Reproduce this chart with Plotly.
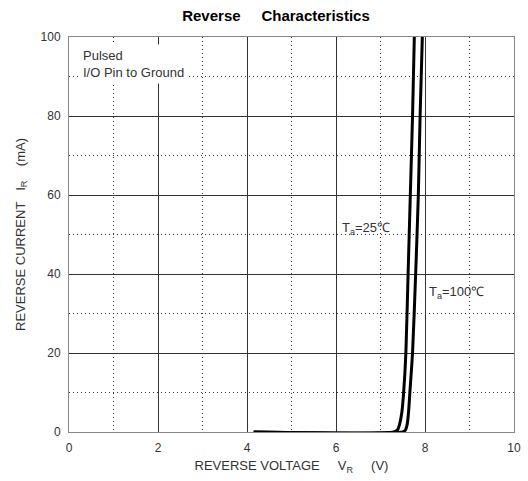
import plotly.graph_objects as go

# Data
vr_25 = [4.15, 7.30, 7.38, 7.43, 7.48, 7.52, 7.57, 7.62, 7.67, 7.72, 7.76]
ir_25 = [0, 0, 0.5, 2, 5, 10, 20, 40, 60, 80, 100]
vr_100 = [4.15, 7.50, 7.56, 7.60, 7.63, 7.66, 7.72, 7.79, 7.85, 7.89, 7.94]
ir_100 = [0, 0, 0.5, 2, 5, 10, 20, 40, 60, 80, 100]

x_ticks = [0, 2, 4, 6, 8, 10]
y_ticks = [0, 20, 40, 60, 80, 100]

FONT = "Arial, Liberation Sans, sans-serif"
NB = "\u00a0"

fig = go.Figure()
fig.add_trace(go.Scatter(x=vr_25, y=ir_25, mode="lines",
                         line=dict(color="black", width=3, shape="spline", smoothing=0.6),
                         name="Ta=25°C", showlegend=False))
fig.add_trace(go.Scatter(x=vr_100, y=ir_100, mode="lines",
                         line=dict(color="black", width=3, shape="spline", smoothing=0.6),
                         name="Ta=100°C", showlegend=False))

axis_common = dict(
    showline=True, linecolor="#888888", linewidth=1, mirror=True,
    showgrid=True, gridcolor="#333333", gridwidth=1,
    zeroline=False, ticks="",
    tickfont=dict(family=FONT, size=12, color="#333333"),
)

fig.update_xaxes(
    range=[0, 10], tickvals=x_ticks, ticktext=[str(v) for v in x_ticks],
    ticklabelstandoff=5,
    minor=dict(dtick=1, tick0=0, showgrid=True, gridcolor="#333333", griddash="1px,3px", gridwidth=1),
    title=dict(text=f"REVERSE VOLTAGE{NB*5}V<sub>R</sub>{NB*5}(V)",
               font=dict(family=FONT, size=13, color="#333333"), standoff=6),
    **axis_common,
)
fig.update_yaxes(
    range=[0, 100], tickvals=y_ticks, ticktext=[str(v) for v in y_ticks],
    ticklabelstandoff=5,
    minor=dict(dtick=10, tick0=0, showgrid=True, gridcolor="#333333", griddash="1px,3px", gridwidth=1),
    title=dict(text=f"REVERSE CURRENT{NB*3}I<sub>R</sub>{NB*4}(mA)",
               font=dict(family=FONT, size=13, color="#333333"), standoff=12),
    **axis_common,
)

fig.add_annotation(x=0.22, y=98.2, xref="x", yref="y", xanchor="left", yanchor="top",
                   text="Pulsed<br>I/O Pin to Ground", align="left", showarrow=False,
                   bgcolor="white", borderpad=3,
                   font=dict(family=FONT, size=13, color="#333333"))
fig.add_annotation(x=6.08, y=51.5, xref="x", yref="y", xanchor="left", yanchor="middle",
                   text="T<sub>a</sub>=25℃", showarrow=False,
                   font=dict(family=FONT, size=13, color="#333333"))
fig.add_annotation(x=8.05, y=35.2, xref="x", yref="y", xanchor="left", yanchor="middle",
                   text="T<sub>a</sub>=100℃", showarrow=False,
                   font=dict(family=FONT, size=13, color="#333333"))

fig.update_layout(
    width=528, height=481,
    margin=dict(l=69, r=7, t=37, b=49),
    paper_bgcolor="white", plot_bgcolor="white",
    title=dict(text=f"<b>Reverse{NB*5}Characteristics</b>", x=276 / 528, xanchor="center",
               y=1 - 16 / 481, yanchor="middle",
               font=dict(family=FONT, size=15, color="black")),
    showlegend=False,
)

fig.write_html("out.html")
